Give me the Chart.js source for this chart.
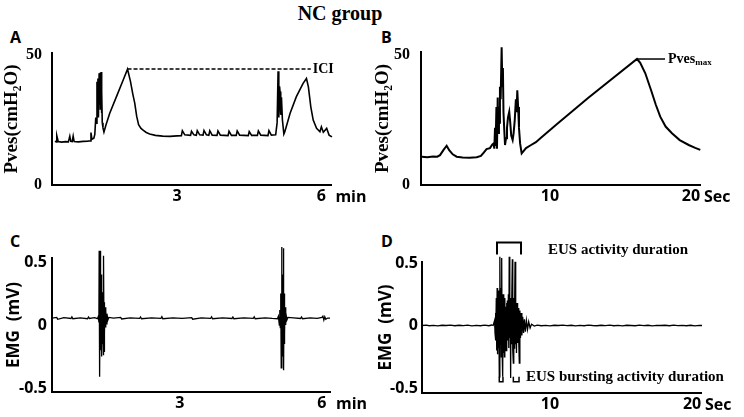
<!DOCTYPE html>
<html>
<head>
<meta charset="utf-8">
<script src="https://cdn.jsdelivr.net/npm/chart.js@4.4.0/dist/chart.umd.min.js"></script>
<style>
  body { margin: 0; background: #fff; }
  #page { position: relative; width: 744px; height: 417px; overflow: hidden; }
  canvas { position: absolute; }
  .txt { position: absolute; color: #000; white-space: nowrap; }
  #title { left: 0; width: 680px; top: 3px; text-align: center; font: bold 20px/20px "Liberation Serif"; }
  .letter { font: bold 16px/16px "Open Sans"; }
</style>
</head>
<body>
<div id="page">
  <div id="title" class="txt">NC group</div>
  <div class="txt letter" style="left:10px;top:29px">A</div>
  <div class="txt letter" style="left:381px;top:29px">B</div>
  <div class="txt letter" style="left:10px;top:233px">C</div>
  <div class="txt letter" style="left:381px;top:233px">D</div>
  <canvas id="chartA" width="372" height="210" style="left:0;top:0"></canvas>
  <canvas id="chartB" width="372" height="210" style="left:372px;top:0"></canvas>
  <canvas id="chartC" width="372" height="207" style="left:0;top:210px"></canvas>
  <canvas id="chartD" width="372" height="207" style="left:372px;top:210px"></canvas>
</div>
<script>
// tick values
var minTicks = [3, 6];
var secTicks = [10, 20];
var pvesTicks = [0, 50];
var emgTicks = [-0.5, 0, 0.5];

// A: bladder pressure over 6 min (cmH2O)
var aTime = [0.46, 0.49, 0.50, 0.53, 0.60, 0.68, 0.74, 0.77, 0.79, 0.82, 0.84, 0.86, 0.95, 1.05, 1.14, 1.20, 1.21, 1.23, 1.27, 1.29,
  1.31, 1.32, 1.335, 1.345, 1.355, 1.365, 1.38, 1.39, 1.40, 1.405, 1.42, 1.43, 1.435, 1.445, 1.46, 1.48, 1.52, 1.60, 1.74, 1.88,
  1.97, 2.03, 2.08, 2.12, 2.16, 2.20, 2.25, 2.30, 2.36, 2.43, 2.55, 2.70, 2.85, 3.00, 3.09, 3.11, 3.16, 3.28, 3.30, 3.35,
  3.40, 3.42, 3.47, 3.54, 3.56, 3.61, 3.66, 3.68, 3.73, 3.83, 3.85, 3.90, 4.06, 4.08, 4.13, 4.23, 4.25, 4.30, 4.48, 4.50,
  4.55, 4.67, 4.69, 4.74, 4.89, 4.91, 4.96, 5.05, 5.08, 5.10, 5.115, 5.13, 5.14, 5.155, 5.17, 5.19, 5.22, 5.24, 5.35, 5.48,
  5.62, 5.69, 5.73, 5.78, 5.83, 5.90, 5.97, 6.00, 6.04, 6.11, 6.16, 6.22];
var aPves = [16.8, 16.6, 19.0, 16.7, 16.5, 16.7, 16.6, 18.8, 16.8, 16.7, 18.8, 16.7, 16.6, 16.8, 16.9, 17.0, 20.2, 17.6, 18.0, 19.5,
  26.0, 23.8, 39.7, 28.0, 41.0, 26.0, 43.0, 31.0, 43.2, 29.0, 43.5, 27.7, 35.9, 24.0, 22.0, 20.4, 23.0, 27.6, 34.0, 40.4,
  44.6, 40.0, 35.0, 31.5, 26.5, 23.2, 21.8, 21.0, 20.2, 19.6, 19.1, 18.8, 18.7, 18.9, 19.0, 20.9, 19.3, 19.1, 20.7, 19.3,
  19.1, 20.9, 19.3, 19.2, 21.0, 19.3, 19.1, 20.9, 19.2, 19.1, 20.8, 19.2, 19.0, 20.7, 19.1, 19.1, 20.8, 19.2, 19.0, 20.6,
  19.1, 19.1, 20.8, 19.2, 19.0, 20.9, 19.2, 19.3, 24.0, 43.8, 26.0, 38.0, 36.0, 27.0, 33.8, 25.0, 19.6, 20.5, 27.6, 34.0,
  39.1, 41.0, 37.8, 30.1, 25.0, 21.8, 20.5, 22.4, 20.3, 21.8, 19.2, 18.5];
var iciTime = [1.97, 5.78];
var iciPves = [44.6, 44.6];

// B: one voiding cycle over 20 s (cmH2O)
var bTime = [0.92, 1.3, 1.7, 2.0, 2.2, 2.45, 2.67, 2.85, 3.1, 3.38, 3.8, 4.3, 4.8, 5.1, 5.3, 5.5, 5.74, 5.9, 6.0, 6.05,
  6.1, 6.14, 6.2, 6.24, 6.29, 6.33, 6.38, 6.42, 6.45, 6.5, 6.57, 6.62, 6.66, 6.7, 6.75, 6.81, 6.88, 6.95, 7.02, 7.11,
  7.18, 7.25, 7.35, 7.42, 7.5, 7.58, 7.63, 7.68, 7.74, 7.8, 7.88, 7.99, 8.3, 8.6, 9.0, 9.4, 10.5, 12.7, 16.17, 16.4,
  16.76, 17.2, 17.5, 17.82, 18.2, 18.65, 19.2, 19.84, 20.3, 20.66];
var bPves = [10.9, 10.7, 11.0, 10.9, 11.5, 13.5, 15.1, 13.4, 11.8, 10.9, 10.6, 10.5, 10.7, 11.2, 12.5, 13.8, 14.2, 15.5, 16.0, 14.0,
  22.0, 15.0, 30.0, 14.0, 33.7, 20.0, 30.0, 24.0, 37.8, 33.0, 53.0, 38.0, 45.0, 28.0, 22.0, 15.4, 18.0, 22.0, 26.0, 28.2,
  24.0, 19.0, 17.3, 20.0, 25.0, 33.0, 28.0, 36.5, 30.0, 22.0, 16.0, 12.2, 14.2, 15.2, 16.5, 18.4, 23.5, 33.5, 48.5, 47.0,
  43.0, 36.0, 31.0, 26.3, 22.5, 19.9, 17.3, 15.4, 14.3, 13.5];
var pmaxTime = [16.17, 18.16];
var pmaxPves = [48.5, 48.5];

// C: EUS EMG over 6 min (mV)
var cTime = [0.30, 0.40, 0.42, 0.55, 0.70, 0.72, 0.74, 0.90, 1.05, 1.07, 1.09, 1.20,
  1.26, 1.28, 1.29, 1.296, 1.30, 1.305, 1.311, 1.315, 1.32, 1.326, 1.33, 1.336, 1.342, 1.348, 1.354, 1.36, 1.366, 1.372,
  1.378, 1.381, 1.385, 1.39, 1.395, 1.40, 1.405, 1.41, 1.42, 1.43, 1.44, 1.45, 1.46, 1.48, 1.50,
  1.60, 1.75, 1.77, 1.95, 2.15, 2.17, 2.19, 2.40, 2.60, 2.62, 2.64, 2.85, 3.05, 3.25, 3.27, 3.45, 3.65, 3.67, 3.69, 3.90,
  4.10, 4.12, 4.14, 4.35, 4.55, 4.57, 4.59, 4.80, 4.95,
  5.06, 5.08, 5.10, 5.11, 5.12, 5.13, 5.14, 5.15, 5.155, 5.16, 5.165, 5.17, 5.175, 5.18, 5.185, 5.19, 5.195, 5.20, 5.205,
  5.21, 5.215, 5.22, 5.23, 5.24, 5.26, 5.28,
  5.40, 5.55, 5.57, 5.59, 5.75, 5.90, 6.00, 6.02, 6.04, 6.06, 6.08, 6.12, 6.17];
var cEmg = [0.055, 0.06, 0.045, 0.058, 0.052, 0.065, 0.05, 0.057, 0.05, 0.064, 0.052, 0.058,
  0.05, 0.07, 0.02, 0.59, 0.10, -0.05, -0.41, 0.30, 0.02, 0.59, -0.20, 0.40, -0.25, 0.32, -0.18, 0.26, -0.15, 0.22,
  -0.12, -0.24, 0.20, -0.10, 0.55, -0.21, 0.18, -0.06, 0.14, -0.02, 0.11, 0.01, 0.09, 0.04, 0.06,
  0.055, 0.06, 0.048, 0.056, 0.052, 0.064, 0.05, 0.057, 0.053, 0.066, 0.05, 0.056, 0.052, 0.058, 0.046, 0.056, 0.053, 0.065, 0.05, 0.057,
  0.052, 0.064, 0.05, 0.056, 0.053, 0.065, 0.05, 0.056, 0.052,
  0.05, 0.07, 0.0, 0.12, -0.02, 0.25, -0.34, 0.62, -0.15, 0.40, -0.25, 0.35, -0.20, 0.30, -0.30, 0.61, -0.36, 0.25, -0.15,
  0.18, -0.08, 0.14, 0.0, 0.10, 0.04, 0.06,
  0.056, 0.052, 0.064, 0.05, 0.056, 0.053, 0.06, 0.07, 0.04, 0.065, 0.045, 0.055, 0.055];

// D: EUS EMG over 20 s (mV)
var dTime = [1.0, 1.3, 1.5, 1.8, 2.1, 2.4, 2.7, 3.0, 3.3, 3.6, 3.9, 4.2, 4.5, 4.8, 5.1, 5.4, 5.7, 5.9,
  6.0, 6.10, 6.13, 6.16, 6.19, 6.22, 6.25, 6.28, 6.31, 6.34, 6.37, 6.40, 6.43, 6.46, 6.48, 6.51, 6.54, 6.57, 6.60, 6.63,
  6.67, 6.70, 6.73, 6.76, 6.79, 6.82, 6.85, 6.88, 6.91, 6.94, 6.97, 7.00, 7.03, 7.07, 7.10, 7.13, 7.17, 7.20, 7.23, 7.26,
  7.29, 7.32, 7.35, 7.38, 7.42, 7.45, 7.48, 7.51, 7.54, 7.57, 7.60, 7.64, 7.68, 7.72, 7.76, 7.80, 7.84, 7.88, 7.92, 7.97,
  8.02, 8.08, 8.14, 8.20, 8.27, 8.34, 8.42, 8.50, 8.60, 8.70,
  8.9, 9.1, 9.4, 9.7, 10.0, 10.3, 10.6, 10.9, 11.2, 11.5, 11.8, 12.1, 12.4, 12.7, 13.0, 13.3, 13.6, 13.9, 14.2, 14.5,
  14.8, 15.1, 15.4, 15.7, 16.0, 16.3, 16.6, 16.9, 17.2, 17.5, 17.8, 18.1, 18.4, 18.7, 19.0, 19.3, 19.6, 19.9, 20.2, 20.5, 20.7];
var dEmg = [0.0, 0.003, -0.002, 0.001, -0.003, 0.002, 0.0, 0.003, -0.002, 0.002, -0.001, 0.003, -0.003, 0.001, -0.002, 0.003, -0.002, 0.004,
  0.0, 0.04, -0.06, 0.10, -0.12, 0.22, -0.20, 0.30, -0.23, 0.25, -0.18, 0.28, -0.41, 0.20, 0.55, -0.15, 0.30, -0.25, 0.54, -0.20,
  -0.41, 0.25, -0.22, 0.20, -0.25, 0.22, -0.18, 0.15, -0.20, 0.18, -0.15, 0.20, -0.12, 0.25, -0.18, 0.55, -0.10, 0.20, -0.42, 0.22,
  -0.15, 0.18, 0.53, -0.20, -0.30, 0.22, -0.18, 0.15, 0.51, -0.15, 0.20, -0.22, 0.18, -0.14, 0.14, -0.12, -0.30, 0.12, -0.10, 0.10,
  -0.08, 0.07, -0.06, 0.05, -0.05, 0.04, -0.03, 0.03, -0.02, 0.01,
  -0.004, 0.003, -0.002, 0.001, -0.003, 0.002, 0.0, 0.003, -0.001, 0.002, -0.003, 0.001, -0.002, 0.003, 0.0, -0.002, 0.002, -0.001, 0.003, -0.002,
  0.001, -0.003, 0.002, 0.0, -0.002, 0.003, -0.001, 0.002, -0.003, 0.001, 0.0, 0.002, -0.002, 0.003, -0.001, 0.001, -0.002, 0.002, -0.003, 0.001, 0.0];
// duration brackets (s, mV)
var activityTime = [6.27, 6.27, 7.96, 7.96];
var activityEmg = [0.568, 0.664, 0.664, 0.568];
var burst1Time = [6.43, 6.43, 6.69, 6.69];
var burst2Time = [7.42, 7.42, 7.82, 7.82];
var burstEmg = [-0.41, -0.45, -0.45, -0.41];

function pts(xs, ys) {
  return xs.map(function (x, i) { return {x: x, y: ys[i]}; });
}

// draws the unit after the last x tick and free text labels at data positions
var notesPlugin = {
  id: 'notes',
  afterDatasetsDraw: function (chart, args, opts) {
    var ctx = chart.ctx, xs = chart.scales.x, ys = chart.scales.y;
    ctx.save();
    ctx.fillStyle = '#000';
    ctx.textAlign = 'left';
    ctx.textBaseline = 'middle';
    if (opts.unit) {
      var last = xs.ticks[xs.ticks.length - 1].value;
      ctx.font = 'bold 16px "Open Sans"';
      ctx.fillText(opts.unit, xs.getPixelForValue(last) + opts.unitGap, xs.top + opts.unitDy);
    }
    (opts.labels || []).forEach(function (l) {
      var px = xs.getPixelForValue(l.x), py = ys.getPixelForValue(l.y);
      ctx.font = 'bold ' + l.size + 'px "Liberation Serif"';
      ctx.fillText(l.text, px, py);
      if (l.sub) {
        px += ctx.measureText(l.text).width;
        ctx.font = 'bold ' + Math.round(l.size * 0.64) + 'px "Liberation Serif"';
        ctx.fillText(l.sub, px, py + 4);
      }
    });
    ctx.restore();
  }
};

function line(data, width, dash) {
  return {data: data, borderColor: '#000', borderWidth: width, borderDash: dash || [],
    pointRadius: 0, tension: 0, clip: false};
}

function makeChart(id, c) {
  var sans = {family: 'Open Sans', weight: 'bold', size: 16};
  var serif = {family: 'Liberation Serif', weight: 'bold', size: 16};
  return new Chart(document.getElementById(id), {
    type: 'line',
    data: {datasets: c.datasets},
    plugins: [notesPlugin],
    options: {
      responsive: false,
      animation: false,
      layout: {padding: {top: c.top, right: c.right, left: 0, bottom: 0}},
      plugins: {
        legend: {display: false},
        tooltip: {enabled: false},
        notes: {unit: c.unit, unitGap: c.unitGap, unitDy: c.unitDy, labels: c.labels}
      },
      scales: {
        x: {
          type: 'linear', min: c.xMin, max: c.xMax,
          grid: {display: false, drawTicks: false},
          border: {display: true, color: '#000', width: 2},
          ticks: {font: sans, color: '#000', padding: c.xPad, maxRotation: 0, autoSkip: false,
            callback: function (v) { return String(v); }},
          afterBuildTicks: function (s) { s.ticks = c.xTicks.map(function (v) { return {value: v}; }); },
          afterFit: function (s) { s.height = c.xH; }
        },
        y: {
          type: 'linear', min: c.yMin, max: c.yMax,
          grid: {display: false, drawTicks: false},
          border: {display: true, color: '#000', width: 2},
          ticks: {font: c.serifY ? serif : sans, color: '#000', padding: c.yPad, autoSkip: false,
            callback: function (v) { return String(v); }},
          title: {display: true, text: c.yTitle, color: '#000',
            font: c.serifY ? {family: 'Liberation Serif', weight: 'bold', size: 19} : {family: 'Open Sans', weight: 'bold', size: 17},
            padding: {top: c.titlePad, bottom: 0}},
          afterBuildTicks: function (s) { s.ticks = c.yTicks.map(function (v) { return {value: v}; }); },
          afterFit: function (s) { s.width = c.yW; }
        }
      }
    }
  });
}

makeChart('chartA', {
  datasets: [line(pts(aTime, aPves), 1.6), line(pts(iciTime, iciPves), 1.5, [4, 2])],
  top: 53, right: 41, yW: 52, xH: 25,
  xMin: 0.40, xMax: 6.20, yMin: 0, yMax: 50.8,
  xTicks: minTicks, yTicks: pvesTicks, serifY: true, yTitle: 'Pves(cmH\u2082O)', titlePad: 1,
  xPad: 2, yPad: 10, unit: 'min', unitGap: 14, unitDy: 12,
  labels: [{x: 5.82, y: 44.6, text: 'ICI', size: 14}]
});

makeChart('chartB', {
  datasets: [line(pts(bTime, bPves), 2), line(pts(pmaxTime, pmaxPves), 1.5)],
  top: 52, right: 44, yW: 49, xH: 25,
  xMin: 0.85, xMax: 20.64, yMin: 0, yMax: 51.2,
  xTicks: secTicks, yTicks: pvesTicks, serifY: true, yTitle: 'Pves(cmH\u2082O)', titlePad: 0,
  xPad: 2, yPad: 11, unit: 'Sec', unitGap: 13, unitDy: 12,
  labels: [{x: 18.37, y: 48.5, text: 'Pves', sub: 'max', size: 14}]
});

makeChart('chartC', {
  datasets: [line(pts(cTime, cEmg), 1.3)],
  top: 48, right: 42, yW: 52, xH: 25,
  xMin: 0.30, xMax: 6.17, yMin: -0.532, yMax: 0.532,
  xTicks: minTicks, yTicks: emgTicks, serifY: false, yTitle: 'EMG  (mV)', titlePad: 4,
  xPad: 2, yPad: 5, unit: 'min', unitGap: 14, unitDy: 12,
  labels: []
});

makeChart('chartD', {
  datasets: [line(pts(dTime, dEmg), 1.3), line(pts(activityTime, activityEmg), 2),
    line(pts(burst1Time, burstEmg), 1.5), line(pts(burst2Time, burstEmg), 1.5)],
  top: 52, right: 43, yW: 50, xH: 24,
  xMin: 0.99, xMax: 20.63, yMin: -0.54, yMax: 0.508,
  xTicks: secTicks, yTicks: emgTicks, serifY: false, yTitle: 'EMG  (mV)', titlePad: 4,
  xPad: 2, yPad: 4, unit: 'Sec', unitGap: 13, unitDy: 12,
  labels: [{x: 9.86, y: 0.60, text: 'EUS activity duration', size: 15},
    {x: 8.31, y: -0.416, text: 'EUS bursting activity duration', size: 15}]
});
</script>
</body>
</html>
